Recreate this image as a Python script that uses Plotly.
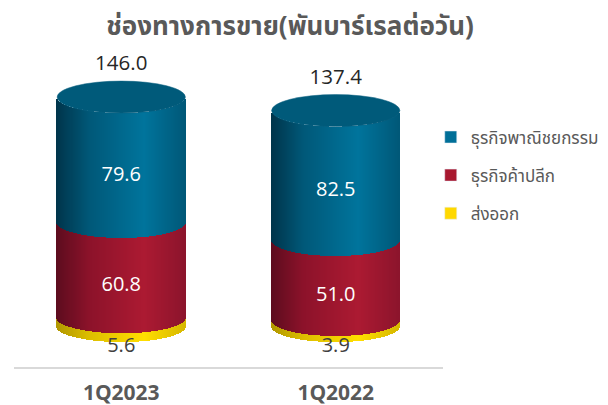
import numpy as np
import plotly.graph_objects as go

quarters = ["1Q2023", "1Q2022"]
export = [5.6, 3.9]
retail = [60.8, 51.0]
commercial = [79.6, 82.5]
totals = [146.0, 137.4]
series_names = ["ธุรกิจพาณิชยกรรม", "ธุรกิจค้าปลีก", "ส่งออก"]

FONT = "Open Sans, Noto Sans, Noto Sans Thai, sans-serif"
BAR_W = 0.598
PX_Y = 1.568
E = 16 / PX_Y  # ellipse half-height in data units
N = 128

def lerp(stops, t):
    for (a, ca), (b, cb) in zip(stops, stops[1:]):
        if t <= b:
            f = (t - a) / (b - a)
            return "rgb(%d,%d,%d)" % tuple(round(p + (q - p) * f) for p, q in zip(ca, cb))
    return "rgb(%d,%d,%d)" % stops[-1][1]

BLUE = [(0, (0, 52, 74)), (0.25, (0, 88, 120)), (0.68, (0, 116, 156)), (1, (0, 88, 120))]
RED = [(0, (92, 12, 30)), (0.25, (140, 18, 42)), (0.68, (172, 26, 50)), (1, (140, 20, 44))]
YEL = [(0, (176, 150, 0)), (0.25, (220, 190, 0)), (0.68, (255, 222, 0)), (1, (214, 184, 0))]

fig = go.Figure()
for i, q in enumerate(quarters):
    us = (np.arange(N) + 0.5) / N * 2 - 1
    xs = i + us * BAR_W / 2
    arc = E * np.sqrt(1 - us ** 2)
    base = 0.0
    for val, stops in ((export[i], YEL), (retail[i], RED), (commercial[i], BLUE)):
        fig.add_bar(
            x=xs, y=[val] * N, base=base - arc, width=BAR_W / N * 1.3,
            marker=dict(color=[lerp(stops, (u + 1) / 2) for u in us], line_width=0),
            showlegend=False, hoverinfo="skip",
        )
        base += val
    fig.add_shape(type="circle", xref="x", yref="y",
                  x0=i - BAR_W / 2, x1=i + BAR_W / 2,
                  y0=totals[i] - E, y1=totals[i] + E,
                  fillcolor="#005a7a", line=dict(color="#0a6080", width=0.5), layer="above")

# legend entries
for name, col in zip(series_names, ["#006f98", "#a8182f", "#ffd800"]):
    fig.add_bar(x=[None], y=[None], name=name, marker_color=col, legendgroup=name)

xi = list(range(len(quarters)))
def labels(xv, yv, txt, color, size):
    fig.add_scatter(x=xv, y=yv, text=txt, mode="text", showlegend=False, hoverinfo="skip", cliponaxis=False,
                    textfont=dict(color=color, size=size, family=FONT), textposition="middle center")

labels(xi, [c / 2 + r + e - E for c, r, e in zip(commercial, retail, export)],
       [f"{v:.1f}" for v in commercial], "#ffffff", 20)
labels(xi, [r / 2 + e - E for r, e in zip(retail, export)], [f"{v:.1f}" for v in retail], "#ffffff", 20)
labels(xi, [-13.4] * 2, [f"{v:.1f}" for v in export], "#404040", 20)
labels(xi, [t + 20.4 for t in totals], [f"{v:.1f}" for v in totals], "#262626", 20.5)

fig.update_layout(
    width=600, height=397, autosize=False,
    margin=dict(l=6, r=0, t=32, b=38),
    paper_bgcolor="white", plot_bgcolor="white",
    barmode="overlay", bargap=0,
    font=dict(family=FONT),
    title=dict(text="<b>ช่องทางการขาย(พันบาร์เรลต่อวัน)</b>", x=0.47, xanchor="center", y=0.955, yanchor="middle",
               font=dict(size=26, color="#595959", family=FONT)),
    legend=dict(x=0.7016, xref="paper", y=0.757, yref="paper", yanchor="top", xanchor="left",
                font=dict(size=17, color="#595959", family=FONT),
                tracegroupgap=13, traceorder="grouped", itemwidth=30, bgcolor="rgba(0,0,0,0)"),
    xaxis=dict(domain=[0, 429 / 594], range=[-0.5, 1.5], tickvals=xi,
               ticktext=[f"<b>{q}</b>" for q in quarters],
               showgrid=False, zeroline=False, showline=True, linecolor="#d9d9d9", linewidth=2,
               ticks="", ticklabelstandoff=6, automargin=False,
               tickfont=dict(size=21, color="#595959", family=FONT)),
    yaxis=dict(range=[-26.1, 182.4], visible=False),
)
fig.write_html("out.html")
